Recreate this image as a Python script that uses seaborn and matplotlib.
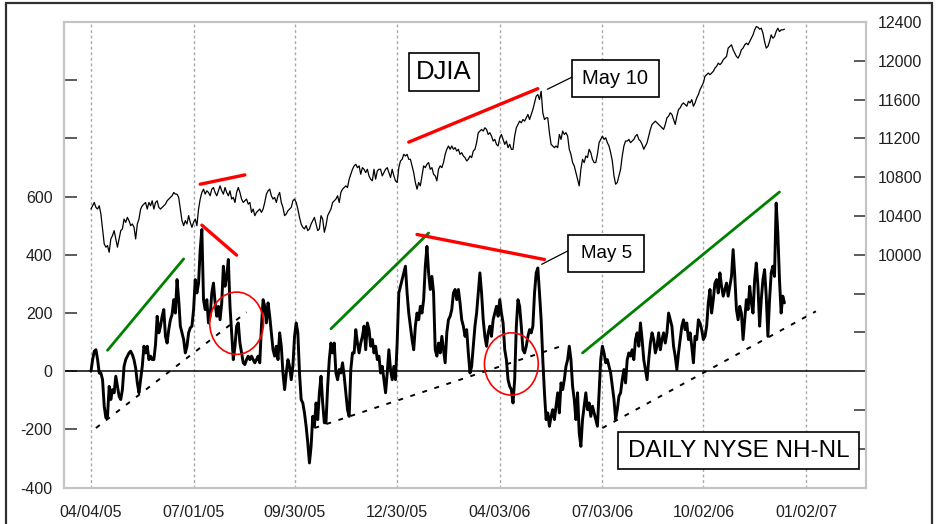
import matplotlib
matplotlib.use("Agg")
import matplotlib.pyplot as plt
from matplotlib.patches import Ellipse, Rectangle
from matplotlib.lines import Line2D
import seaborn as sns
import numpy as np
import pandas as pd

# Daily NYSE new highs minus new lows, one value per session from 04/04/05
nhnl = [
    0, 40, 69, 74, 40, -6, -6, -29, -120, -160, -155, -52, -97, -63, -74, -17, -52, -86, -97, -63,
    17, 40, 52, 63, 69, 57, 40, 11, -40, -74, -29, 17, 86, 63, 86, 40, 52, 40, 40, 92,
    189, 132, 155, 189, 212, 120, 97, 143, 177, 195, 246, 200, 315, 246, 155, 132, 109, 63, 86, 132,
    149, 155, 212, 315, 269, 303, 418, 487, 246,
    212, 246, 166, 189, 269, 303, 235, 189, 223, 177, 235, 361, 292, 326, 384, 223, 132, 40, 86, 155,
    166, 97, 63, 29, 23, 40, 52, 40, 52, 40, 29, 40, 52, 29, 155, 246, 223, 166, 235, 189,
    132, 74, 52, 86, 40, 132, 86, -6, -63, -6, 40, 17, -29, 17, 120, 166, 132, -6, -97, -109,
    -143, -189, -246, -315, -258, -155, -189, -109, -166, -74,
    -17, -109, -177, -177, -52, 40, 97, 63, 97, -6, -29, 6, -6, 29, -17, -74, -132, -155, 6, 63,
    63, 143, 97, 63, 97, 120, 155, 74, 166, 143, 86, 109, 63, 86, 40, 52, -6, 17, -29, -74,
    -6, 74, 6, -29, 17, -29, 97, 269, 292, 315, 338, 361, 269, 200, 155, 109, 74, 155, 200, 177,
    223, 200, 246, 361, 429, 338, 281, 326, 269,
    74, 52, 97, 63, 120, 74, 29, 132, 177, 189, 212, 269, 281, 246, 281, 235, 177, 155, 120, 143,
    63, -6, 17, 86, 155, 200, 269, 338, 269, 177, 120, 86, 132, 155, 120, 177, 200, 223, 189, 246,
    200, 166, 74, 40, -29, -52, -63, -109, -29, 155, 246, 223, 155, 74, 63, 86, 120, 143, 132, 155,
    269, 338, 355, 269, 177, 40, -74, -166, -143, -189,
    -155, -132, -166, -120, -74, -143, -40, -63, -29, 17, 40, 86, 40, -52, -97, -166, -74, -212, -258, -166,
    -120, -74, -132, -109, -155, -120, -143, -166, -189, -74, 40, 86, 63, 29, 40, 17, -6, -52, -97, -166,
    -132, -86, -74, -29, 6, -40, 40, 63, 52, 74, 40, 109, 132, 86, 166, 109, 40, 6, -29, 40,
    97, 132, 109, 63, 86, 132, 74, 109, 132, 97,
    132, 200, 177, 155, 86, 52, 6, 63, 109, 155, 177, 143, 166, 109, 132, 86, 29, 120, 109, 177,
    166, 143, 109, 120, 155, 235, 281, 200, 246, 303, 315, 269, 338, 292, 258, 281, 303, 258, 292, 326,
    418, 326, 212, 177, 223, 200, 109, 177, 246, 212, 292, 235, 200, 315, 372, 292, 155, 246, 315, 349,
    258, 120, 246, 338, 361, 326, 578, 475, 315, 200, 258, 235,
]

# DJIA close for the same sessions
djia = [
    10472, 10506, 10540, 10489, 10472, 10506, 10421, 10267, 10113, 10079, 10096, 10027, 10164, 10198, 10250,
    10164, 10079, 10164, 10250, 10267, 10369, 10335, 10386, 10352, 10301, 10318, 10284, 10164, 10318, 10369,
    10472, 10506, 10523, 10540, 10472, 10540, 10506, 10557, 10472, 10540, 10557, 10489, 10472, 10489, 10506,
    10523, 10557, 10575, 10592, 10609, 10643, 10626, 10626, 10592, 10472, 10352, 10301, 10352, 10318, 10404,
    10335, 10284, 10335, 10369, 10301, 10472, 10575, 10643, 10677,
    10626, 10660, 10643, 10609, 10677, 10694, 10643, 10609, 10660, 10711, 10660, 10626, 10694, 10643, 10609,
    10660, 10575, 10592, 10540, 10643, 10694, 10643, 10575, 10540, 10557, 10575, 10523, 10540, 10438, 10472,
    10404, 10438, 10455, 10472, 10438, 10472, 10540, 10626, 10660, 10677, 10609, 10575, 10592, 10540, 10609,
    10643, 10540, 10489, 10404, 10421, 10455, 10472, 10489, 10557, 10575, 10540, 10472, 10386, 10318, 10284,
    10267, 10301, 10250, 10267, 10318, 10352, 10386, 10318, 10250, 10267,
    10404, 10369, 10233, 10301, 10404, 10438, 10472, 10540, 10557, 10575, 10609, 10540, 10643, 10677, 10694,
    10711, 10694, 10780, 10831, 10882, 10917, 10934, 10899, 10917, 10831, 10899, 10882, 10848, 10882, 10814,
    10780, 10763, 10882, 10780, 10865, 10882, 10882, 10814, 10848, 10882, 10899, 10848, 10797, 10882, 10814,
    10763, 10746, 10899, 10968, 10985, 11036, 11019, 11036, 10985, 10985, 10917, 10848, 10746, 10677, 10746,
    10711, 10814, 10917, 10899, 10934, 10951, 10882, 10899, 10831,
    10814, 10763, 10882, 10917, 10899, 10951, 11036, 11088, 11122, 11088, 11122, 11088, 11105, 11070, 11088,
    11036, 11053, 11019, 11002, 10968, 10985, 11019, 11002, 11070, 11088, 11156, 11259, 11276, 11293, 11276,
    11310, 11293, 11241, 11259, 11224, 11173, 11190, 11139, 11122, 11207, 11241, 11190, 11139, 11173, 11105,
    11139, 11088, 11088, 11224, 11310, 11344, 11378, 11361, 11395, 11378, 11412, 11447, 11395, 11447, 11498,
    11566, 11635, 11652, 11600, 11686, 11464, 11395, 11412, 11412, 11259,
    11139, 11122, 11105, 11122, 11105, 11241, 11190, 11276, 11241, 11259, 11224, 11088, 11036, 10951, 10917,
    10848, 10780, 10711, 10882, 10985, 10951, 11019, 11002, 11088, 11053, 10985, 10951, 10951, 11036, 11156,
    11190, 11224, 11190, 11207, 11156, 11122, 11053, 10968, 10814, 10728, 10746, 10814, 10882, 11019, 11122,
    11173, 11173, 11190, 11156, 11173, 11190, 11224, 11241, 11190, 11173, 11139, 11088, 11122, 11156, 11224,
    11293, 11344, 11361, 11378, 11361, 11344, 11327, 11310, 11293, 11344,
    11412, 11430, 11464, 11447, 11395, 11344, 11430, 11498, 11515, 11549, 11566, 11549, 11532, 11583, 11566,
    11600, 11532, 11566, 11618, 11652, 11703, 11737, 11772, 11840, 11857, 11874, 11857, 11874, 11891, 11925,
    11943, 11977, 11960, 11977, 12011, 12028, 12045, 12131, 12148, 12165, 12114, 12079, 12045, 12028, 12062,
    12114, 12131, 12165, 12182, 12165, 12199, 12233, 12267, 12319, 12353, 12346, 12326, 12336, 12285, 12199,
    12131, 12148, 12199, 12267, 12233, 12250, 12302, 12336, 12302, 12319, 12319, 12326,
]

tick_sessions = [0, 62, 123, 185, 247, 309, 370, 432]
tick_labels = ["04/04/05", "07/01/05", "09/30/05", "12/30/05",
               "04/03/06", "07/03/06", "10/02/06", "01/02/07"]
nhnl_ticks = list(range(-400, 1201, 200))
djia_ticks = list(range(7600, 12401, 400))

# hand drawn trend lines: ((session, value), (session, value))
green_trends = [((10, 72), (56, 386)), ((145, 146), (204, 475)), ((297, 63), (416, 616))]
red_nhnl = [((67, 502), (88, 399)), ((197, 470), (274, 384))]
red_djia = [((66, 10728), (93, 10824)), ((192, 11162), (270, 11713))]
support = [((3, -195), (94, 203)), ((135, -195), (285, 88)), ((309, -195), (438, 206))]
circles = [(88, 165), (254, 25)]

df = pd.DataFrame({"session": np.arange(len(nhnl)), "nhnl": nhnl, "djia": djia})

sns.set_style("white")
plt.rcParams["font.family"] = ["Liberation Sans", "DejaVu Sans"]

fig = plt.figure(figsize=(9.39, 5.24), dpi=100)
ax = fig.add_axes([0.0685, 0.0693, 0.8538, 0.8887])
ax2 = ax.twinx()

# vertical dotted grid at the date ticks
for t in tick_sessions:
    ax.axvline(t, color="#a8a8a8", lw=1, ls=(0, (2, 2)), zorder=0)
ax.axhline(0, color="black", lw=1.1, zorder=1)

sns.lineplot(data=df, x="session", y="nhnl", ax=ax, color="black", lw=2.1, zorder=3)
sns.lineplot(data=df, x="session", y="djia", ax=ax2, color="black", lw=0.9)

for (x0, y0), (x1, y1) in green_trends:
    ax.plot([x0, x1], [y0, y1], color="#008000", lw=2.0, zorder=4)
for (x0, y0), (x1, y1) in red_nhnl:
    ax.plot([x0, x1], [y0, y1], color="#ff0000", lw=2.4, zorder=4)
for (x0, y0), (x1, y1) in support:
    ax.plot([x0, x1], [y0, y1], color="black", lw=1.4, ls=(0, (2.5, 4)), zorder=4)
for (x0, y0), (x1, y1) in red_djia:
    ax2.plot([x0, x1], [y0, y1], color="#ff0000", lw=2.4)
for cx, cy in circles:
    ax.add_patch(Ellipse((cx, cy), width=32.5, height=214, fill=False, ec="#ff0000", lw=1.2, zorder=5))

ax.set_xlim(-16.1, 468.3)
ax.set_ylim(-400, 1200)
ax2.set_ylim(7600, 12400)

ax.set_xticks(tick_sessions)
ax.set_xticklabels(tick_labels)
ax.set_yticks(nhnl_ticks)
ax.set_yticklabels([str(v) if v <= 600 else "" for v in nhnl_ticks])
ax2.set_yticks(djia_ticks)
ax2.set_yticklabels([str(v) if v >= 10000 else "" for v in djia_ticks])

ax.tick_params(axis="x", length=0, pad=12.5, labelsize=11.5, labelcolor="#202020")
ax.tick_params(axis="y", direction="in", length=9, width=1.2, color="#404040",
               pad=8.5, labelsize=11.5, labelcolor="#202020")
ax2.tick_params(axis="y", direction="in", length=9, width=1.2, color="#404040",
                pad=8.5, labelsize=11.5, labelcolor="#202020")
for a in (ax, ax2):
    a.set_xlabel("")
    a.set_ylabel("")
    for s in a.spines.values():
        s.set_color("#c4c4c4")
        s.set_linewidth(1.5)


def label_box(x0, y0, x1, y1, text, size):
    fig.add_artist(Rectangle((x0, y0), x1 - x0, y1 - y0, transform=fig.transFigure,
                             fc="white", ec="black", lw=1.2, zorder=10))
    fig.text((x0 + x1) / 2, (y0 + y1) / 2, text, ha="center", va="center",
             fontsize=size, color="black", zorder=11)


label_box(0.4356, 0.8269, 0.5104, 0.8983, "DJIA", 18.5)
label_box(0.6088, 0.8143, 0.7018, 0.8855, "May 10", 14.5)
label_box(0.6052, 0.4815, 0.6858, 0.5515, "May 5", 13.5)
label_box(0.6578, 0.1050, 0.9151, 0.1750, "DAILY NYSE NH-NL", 17.5)

fig.add_artist(Line2D([0.5829, 0.6088], [0.8296, 0.8525], transform=fig.transFigure, color="black", lw=0.9))
fig.add_artist(Line2D([0.5769, 0.6052], [0.4956, 0.5216], transform=fig.transFigure, color="black", lw=0.9))

# outer frame of the picture
fig.add_artist(Rectangle((6 / 939, -0.02), 926 / 939, 1.02 - 3.3 / 524, transform=fig.transFigure,
                         fill=False, ec="#303030", lw=1.6))

fig.savefig("out.png", dpi=100)
